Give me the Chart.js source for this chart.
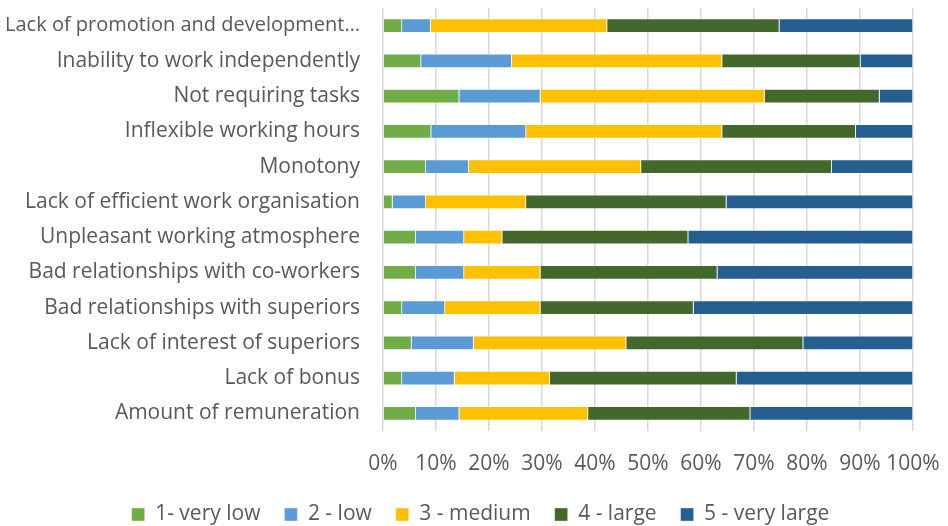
<!DOCTYPE html>
<html>
<head>
<meta charset="utf-8">
<script src="https://cdn.jsdelivr.net/npm/chart.js@4"></script>
<style>
  body { margin: 0; background: #fff; }
  canvas { display: block; }
</style>
</head>
<body>
<canvas id="reasonsChart" width="948" height="526"></canvas>
<script>
const categories = [
    'Lack of promotion and development…',
    'Inability to work independently',
    'Not requiring tasks',
    'Inflexible working hours',
    'Monotony',
    'Lack of efficient work organisation',
    'Unpleasant working atmosphere',
    'Bad relationships with co-workers',
    'Bad relationships with superiors',
    'Lack of interest of superiors',
    'Lack of bonus',
    'Amount of remuneration'
];

const seriesNames = ['1- very low', '2 - low', '3 - medium', '4 - large', '5 - very large'];

const veryLow  = [3.6, 7.2, 14.4, 9.1, 8.1, 1.8, 6.2, 6.2, 3.6, 5.4, 3.6, 6.2];
const low      = [5.4, 17.1, 15.3, 17.9, 8.1, 6.3, 9.1, 9.1, 8.1, 11.7, 9.9, 8.2];
const medium   = [33.3, 39.7, 42.3, 37.0, 32.5, 18.9, 7.2, 14.4, 18.0, 28.8, 18.0, 24.3];
const large    = [32.5, 26.1, 21.7, 25.2, 36.0, 37.8, 35.1, 33.4, 28.9, 33.4, 35.2, 30.6];
const veryLarge = [25.2, 9.9, 6.3, 10.8, 15.3, 35.2, 42.4, 36.9, 41.4, 20.7, 33.3, 30.7];

const xTicks = [0, 10, 20, 30, 40, 50, 60, 70, 80, 90, 100];

const colors = ['#70AD47', '#5B9BD5', '#FFC000', '#43682B', '#255E91'];
const seriesData = [veryLow, low, medium, large, veryLarge];

const textColor = '#595959';
const fontFamily = '"Open Sans", "Noto Sans", sans-serif';

// nudge the legend a bit right, like the original
const legendShift = {
    id: 'legendShift',
    afterLayout(chart) {
        chart.legend.left += 24;
        chart.legend.right += 24;
    }
};

const ctx = document.getElementById('reasonsChart').getContext('2d');

let reasonsChart = new Chart(ctx, {
    type: 'bar',
    data: {
        labels: categories,
        datasets: seriesNames.map((name, i) => ({
            label: name,
            data: seriesData[i],
            backgroundColor: colors[i],
            borderColor: 'rgba(255,255,255,0.45)',
            borderWidth: 0.75,
            barPercentage: 0.41,
            categoryPercentage: 1
        }))
    },
    options: {
        indexAxis: 'y',
        responsive: false,
        animation: false,
        layout: {
            padding: { top: 8, right: 35, bottom: -9, left: 0 }
        },
        scales: {
            x: {
                stacked: true,
                min: 0,
                max: 100,
                afterBuildTicks: (axis) => {
                    axis.ticks = xTicks.map(v => ({ value: v }));
                },
                // fixed height, and no extra side padding for the edge labels
                afterFit: (axis) => {
                    axis.height = 49;
                    axis.paddingLeft = 0;
                    axis.paddingRight = 0;
                },
                ticks: {
                    callback: (v) => v + '%',
                    color: textColor,
                    font: { family: fontFamily, size: 21 },
                    padding: 20,
                    maxRotation: 0,
                    autoSkip: false
                },
                grid: {
                    color: '#D9D9D9',
                    lineWidth: 1.5,
                    drawTicks: false
                },
                border: { display: false }
            },
            y: {
                stacked: true,
                afterFit: (axis) => {
                    axis.width = 383;
                    axis.paddingTop = 0;
                    axis.paddingBottom = 0;
                },
                ticks: {
                    color: textColor,
                    font: (c) => ({ family: fontFamily, size: c.index === 0 ? 20 : 21 }),
                    padding: 23,
                    autoSkip: false
                },
                grid: { display: false, drawTicks: false },
                border: { display: false }
            }
        },
        plugins: {
            legend: {
                position: 'bottom',
                labels: {
                    color: textColor,
                    font: { family: fontFamily, size: 21 },
                    boxWidth: 13,
                    boxHeight: 13,
                    padding: 24
                }
            },
            tooltip: { enabled: false }
        }
    },
    plugins: [legendShift]
});
</script>
</body>
</html>
